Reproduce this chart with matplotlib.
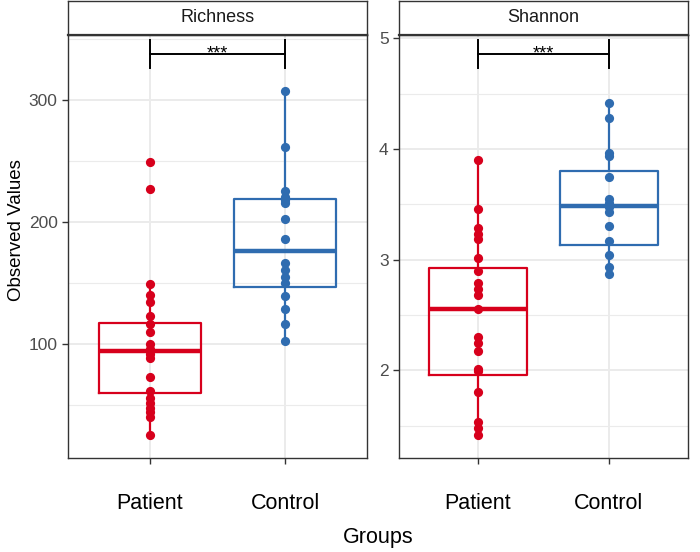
import matplotlib
matplotlib.use("Agg")
import matplotlib.pyplot as plt
import numpy as np
from matplotlib.ticker import MultipleLocator

plt.rcParams["font.family"] = ["Liberation Sans", "DejaVu Sans"]

groups = ["Patient", "Control"]

richness_patient = [249.7, 227.5, 149.2, 140.4, 134.4, 123.4, 116.4, 109.8, 100.2, 96.1,
                    91.8, 88.5, 73.0, 62.0, 55.7, 51.6, 47.5, 44.8, 40.7, 25.7]
richness_control = [307.4, 262.0, 225.9, 221.0, 218.0, 215.6, 202.5, 186.1, 166.9, 160.9,
                    155.4, 150.0, 139.8, 128.9, 116.6, 102.7]
shannon_patient = [3.90, 3.454, 3.288, 3.229, 3.186, 3.012, 2.900, 2.786, 2.732, 2.680,
                   2.551, 2.304, 2.244, 2.174, 2.009, 1.997, 1.801, 1.530, 1.476, 1.416]
shannon_control = [4.418, 4.279, 3.965, 3.934, 3.749, 3.547, 3.509, 3.472, 3.433, 3.304,
                   3.171, 3.042, 2.936, 2.870]

# box stats (patient, control)
richness_q1 = [59.8, 146.7]
richness_med = [94.5, 176.5]
richness_q3 = [117.7, 218.9]
shannon_q1 = [1.958, 3.132]
shannon_med = [2.551, 3.484]
shannon_q3 = [2.921, 3.800]

richness_sig = 338
shannon_sig = 4.857
sig_label = "***"

RED = "#D7001C"
BLUE = "#2F6CB0"
colors = [RED, BLUE]

W, H = 700, 552
fig = plt.figure(figsize=(W / 100, H / 100), dpi=100)


def frac(x0, x1, y0, y1):
    return [x0 / W, 1 - y1 / H, (x1 - x0) / W, (y1 - y0) / H]


def panel(x0, x1, title, values, q1s, meds, q3s, ylim, major, minor, sig_y, tip):
    ax = fig.add_axes(frac(x0, x1, 34.5, 458))
    strip = fig.add_axes(frac(x0, x1, 1, 34.5))
    strip.set_xticks([])
    strip.set_yticks([])
    for s in strip.spines.values():
        s.set_color("#333333")
        s.set_linewidth(1.0)
    strip.spines["bottom"].set_linewidth(1.6)
    strip.text(0.5, 0.5, title, ha="center", va="center", fontsize=13, color="#1A1A1A",
               transform=strip.transAxes)

    stats = []
    for i, vals in enumerate(values):
        v = np.array(vals)
        iqr = q3s[i] - q1s[i]
        lo = v[v >= q1s[i] - 1.5 * iqr].min()
        hi = v[v <= q3s[i] + 1.5 * iqr].max()
        stats.append(dict(q1=q1s[i], med=meds[i], q3=q3s[i], whislo=lo, whishi=hi, fliers=[]))

    for i, st in enumerate(stats):
        c = colors[i]
        ax.bxp([st], positions=[i + 1], widths=0.75, showfliers=False, showcaps=False,
               boxprops=dict(color=c, linewidth=1.6),
               whiskerprops=dict(color=c, linewidth=1.6),
               medianprops=dict(color=c, linewidth=3.2, solid_capstyle="butt"),
               manage_ticks=False, zorder=3)
        ax.scatter(np.full(len(values[i]), i + 1), values[i], s=44, color=c, zorder=4,
                   linewidths=0)

    # significance bracket
    ax.plot([1, 2], [sig_y, sig_y], color="black", lw=1.4, zorder=5)
    for xp in (1, 2):
        ax.plot([xp, xp], [sig_y - tip, sig_y + tip], color="black", lw=1.4, zorder=5)
    ax.text(1.5, sig_y, sig_label, ha="center", va="center", fontsize=13, zorder=6)

    ax.set_xlim(0.4, 2.6)
    ax.set_ylim(*ylim)
    ax.set_xticks([1, 2])
    ax.set_xticklabels(groups, fontsize=15.5, color="black")
    ax.yaxis.set_major_locator(MultipleLocator(major))
    ax.yaxis.set_minor_locator(MultipleLocator(minor))
    ax.tick_params(axis="y", which="major", labelsize=12.5, labelcolor="#4D4D4D",
                   color="#333333", length=4, width=1.0)
    ax.tick_params(axis="y", which="minor", length=0)
    ax.tick_params(axis="x", color="#333333", length=4, width=1.0, pad=21)
    ax.grid(True, which="major", color="#EBEBEB", lw=1.4, zorder=0)
    ax.grid(True, which="minor", axis="y", color="#EBEBEB", lw=0.8, zorder=0)
    ax.set_axisbelow(True)
    for s in ax.spines.values():
        s.set_color("#333333")
        s.set_linewidth(1.0)
    return ax


ax1 = panel(68, 367, "Richness", [richness_patient, richness_control],
            richness_q1, richness_med, richness_q3, (6.8, 353.9), 100, 50, richness_sig, 11.3)
ax2 = panel(399, 687.5, "Shannon", [shannon_patient, shannon_control],
            shannon_q1, shannon_med, shannon_q3, (1.208, 5.033), 1, 0.5, shannon_sig, 0.124)

fig.text(17 / W, 1 - 230 / H, "Observed Values", rotation=90, ha="center", va="center",
         fontsize=13.5)
fig.text(378 / W, 1 - 538 / H, "Groups", ha="center", va="center", fontsize=15.5)

fig.savefig("out.png", dpi=100)
